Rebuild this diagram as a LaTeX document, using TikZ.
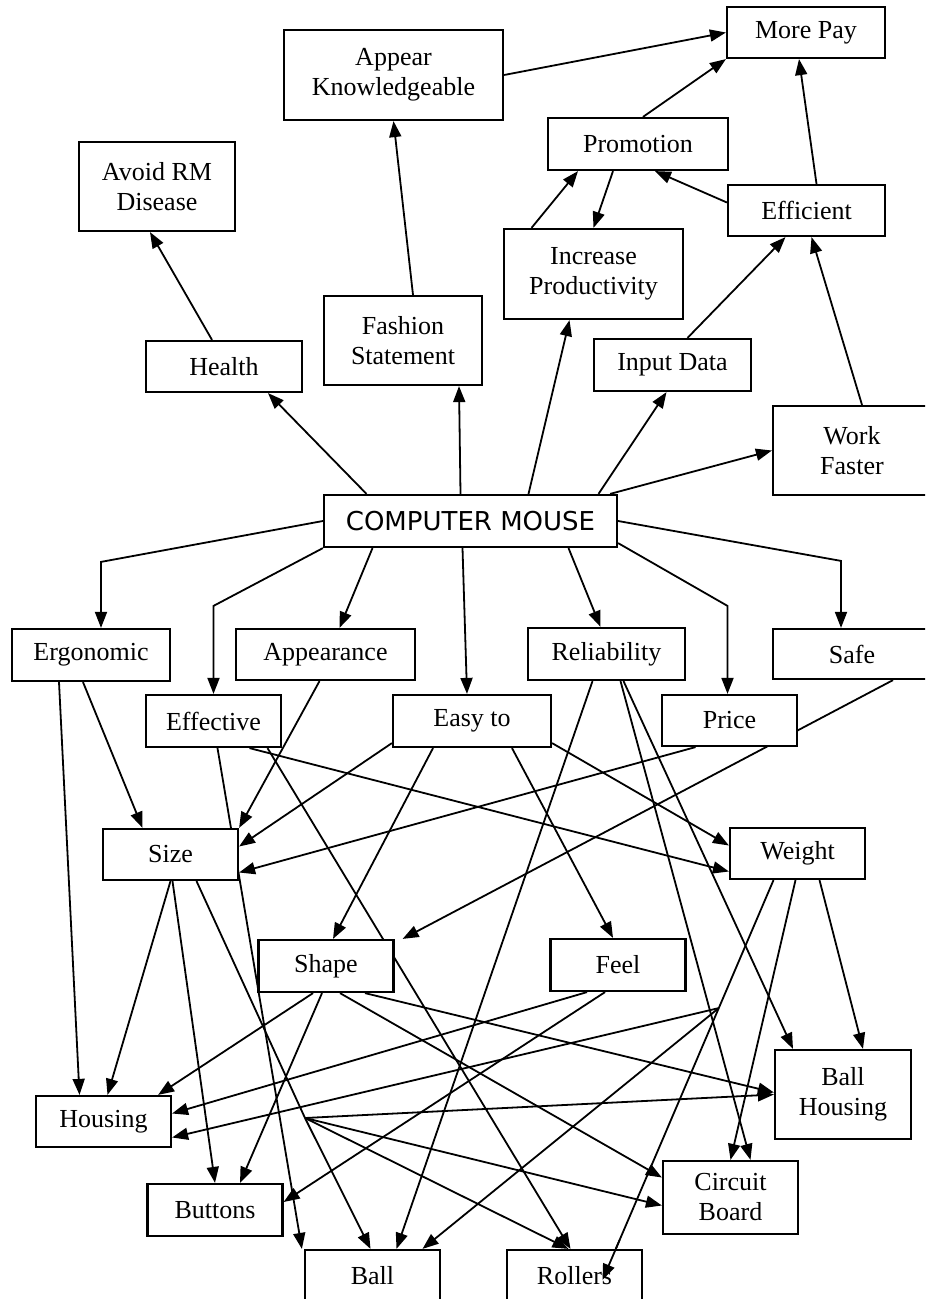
\documentclass[tikz,border=0pt]{standalone}
\usepackage{fontspec}
\setmainfont{Liberation Serif}
\newfontfamily\mousefont{DejaVu Sans}
\usetikzlibrary{arrows.meta,backgrounds,calc}
\tikzset{box/.style={draw, fill=white, line width=1.1pt, inner sep=0pt, align=center,
    minimum width=67.5pt, minimum height=26pt, font=\fontsize{13}{15}\selectfont},
  link/.style={line width=0.9pt, -{Triangle[length=8pt,width=6pt]}}}

\begin{document}
\begin{tikzpicture}[x=0.5pt,y=-0.5pt]
    \useasboundingbox (0,0) rectangle (925,1299);
    \clip (0,0) rectangle (925,1299);
    \node[box, minimum width=79pt, minimum height=25.5pt] (morepay) at (806,32.5) {More Pay};
    \node[box, minimum width=109.5pt, minimum height=45pt] (appear) at (393.5,75) {Appear\\Knowledgeable};
    \node[box, minimum width=78pt, minimum height=44.5pt] (avoid) at (157,186.5) {Avoid RM\\Disease};
    \node[box, minimum width=90pt] (promo) at (638,144) {Promotion};
    \node[box, minimum width=78.5pt, minimum height=25.5pt] (efficient) at (806.5,210.5) {Efficient};
    \node[box, minimum width=89.5pt, minimum height=45pt] (incprod) at (593.5,274) {Increase\\Productivity};
    \node[box, minimum width=79pt, minimum height=44.5pt] (fashion) at (403,340.5) {Fashion\\Statement};
    \node[box, minimum width=78pt, minimum height=25.5pt] (health) at (224,366.5) {Health};
    \node[box, minimum width=78.5pt] (inputdata) at (672.5,365) {Input Data};
    \node[box, minimum width=79pt, minimum height=44.5pt] (workfaster) at (852,450.5) {Work\\Faster};
    \node[box, minimum width=146.5pt, font=\mousefont\fontsize{13}{15}\selectfont] (mouse) at (470.5,521) {COMPUTER MOUSE};
    \node[box, minimum width=79pt] (ergonomic) at (91,655) {Ergonomic};
    \node[box, minimum width=89.5pt, minimum height=25.5pt] (appearance) at (325.5,654.5) {Appearance};
    \node[box, minimum width=78.5pt] (reliability) at (606.5,654) {Reliability};
    \node[box, minimum width=79pt, minimum height=25pt] (safe) at (852,654) {Safe};
    \node[box] (effective) at (213.5,721) {Effective};
    \node[box, minimum width=79pt] (easyto) at (472,721) {Easy to};
    \node[box, minimum height=25.5pt] (price) at (729.5,720.5) {Price};
    \node[box, minimum height=25.5pt] (size) at (170.5,854.5) {Size};
    \node[box, minimum height=25.5pt] (weight) at (797.5,853.5) {Weight};
    \node[box] (shape) at (326,966) {Shape};
    \node[box] (feel) at (618,965) {Feel};
    \node[box, minimum width=68pt, minimum height=44.5pt] (ballhousing) at (843,1094.5) {Ball\\Housing};
    \node[box, minimum height=25.5pt] (housing) at (103.5,1121.5) {Housing};
    \node[box, minimum height=36.5pt] (circuit) at (730.5,1197.5) {Circuit\\Board};
    \node[box] (buttons) at (215,1210) {Buttons};
    \node[box] (ball) at (372.5,1276) {Ball};
    \node[box] (rollers) at (574.5,1276) {Rollers};
    \coordinate (sizejoin) at (305,1118);
    \coordinate (weighttop) at ([xshift=-12pt]weight.south);
    \coordinate (rollersend) at ([xshift=14pt,yshift=-2pt]rollers.center);
    \coordinate (weightjoin) at ($(weighttop)!0.32!(rollersend)$);
    \begin{scope}[on background layer]
    \begin{scope}[link]
    \draw (appear.east) -- (morepay.west);
    \draw ([xshift=2.5pt]promo.north) -- (morepay.south west);
    \draw ([xshift=5pt]efficient.north) -- ([xshift=-3.5pt]morepay.south);
    \draw ([yshift=4pt]efficient.west) -- ([xshift=8.5pt]promo.south);
    \draw ([xshift=-31pt]incprod.north) -- ([xshift=-30pt]promo.south);
    \draw ([xshift=-12.5pt]promo.south) -- (incprod.north);
    \draw ([xshift=5pt]fashion.north) -- (appear.south);
    \draw ([xshift=-6pt]health.north) -- ([xshift=-3.5pt]avoid.south);
    \draw ([xshift=7.5pt]inputdata.north) -- ([xshift=-10.5pt]efficient.south);
    \draw ([xshift=5pt]workfaster.north) -- ([xshift=2.5pt]efficient.south);
    \draw ([xshift=-52pt]mouse.north) -- ([xshift=22pt]health.south);
    \draw ([xshift=-5pt]mouse.north) -- ([xshift=28pt]fashion.south);
    \draw ([xshift=29pt]mouse.north) -- ([xshift=-12pt]incprod.south);
    \draw ([xshift=64pt]mouse.north) -- ([xshift=-3pt]inputdata.south);
    \draw ([xshift=-4pt]mouse.north east) -- (workfaster.west);
    \draw (mouse.west) -- ([xshift=5pt,yshift=33pt]ergonomic.north) -- ([xshift=5pt]ergonomic.north);
    \draw (mouse.south west) -- ([yshift=44pt]effective.north) -- (effective.north);
    \draw ([xshift=-49pt]mouse.south) -- ([xshift=7pt]appearance.north);
    \draw ([xshift=-4pt]mouse.south) -- ([xshift=-2.5pt]easyto.north);
    \draw ([xshift=49pt]mouse.south) -- ([xshift=-3pt]reliability.north);
    \draw ([yshift=2.5pt]mouse.south east) -- ([xshift=-1pt,yshift=44pt]price.north) -- ([xshift=-1pt]price.north);
    \draw (mouse.east) -- ([xshift=-5.5pt,yshift=33.5pt]safe.north) -- ([xshift=-5.5pt]safe.north);
    \draw ([xshift=-16pt]ergonomic.south) -- ([xshift=-12pt]housing.north);
    \draw ([xshift=-4pt]ergonomic.south) -- ([xshift=-14pt]size.north);
    \draw ([xshift=-3pt]appearance.south) -- (size.north east);
    \draw ([xshift=2pt]effective.south) -- ([xshift=-1pt]ball.north west);
    \draw ([xshift=18pt]effective.south) -- ([yshift=-9pt]weight.west);
    \draw ([xshift=27pt]effective.south) -- ([xshift=-2pt]rollers.north);
    \draw ([yshift=2.5pt]easyto.south west) -- ([yshift=4pt]size.east);
    \draw ([xshift=-17pt]price.south) -- ([yshift=-9pt]size.east);
    \draw ([xshift=-19.5pt]easyto.south) -- ([xshift=3.5pt]shape.north);
    \draw ([xshift=20pt]easyto.south) -- ([xshift=-2.5pt]feel.north);
    \draw ([yshift=2.5pt]easyto.south east) -- ([yshift=4pt]weight.west);
    \draw ([xshift=-7pt]reliability.south) -- ([xshift=12pt]ball.north);
    \draw ([xshift=7pt]reliability.south) -- ([xshift=10pt]circuit.north);
    \draw ([xshift=8.5pt]reliability.south) -- ([xshift=-25pt]ballhousing.north);
    \draw ([xshift=20.5pt]safe.south) -- ([xshift=4pt]shape.north east);
    \draw (size.south) -- ([xshift=2pt]housing.north);
    \draw ([xshift=1pt]size.south) -- (buttons.north);
    \draw[-] ([xshift=13pt]size.south) -- (sizejoin);
    \draw (sizejoin) -- (ballhousing.west);
    \draw (sizejoin) -- ([yshift=-4pt]circuit.west);
    \draw (sizejoin) -- ([xshift=-3pt]rollers.north);
    \draw (sizejoin) -- ([xshift=-1pt]ball.north);
    \draw ([xshift=-6.5pt]shape.south) -- ([xshift=-7pt]housing.north east);
    \draw ([xshift=-2pt]shape.south) -- ([xshift=12.5pt]buttons.north);
    \draw ([xshift=7pt]shape.south) -- ([yshift=10pt]circuit.west);
    \draw ([xshift=19.5pt]shape.south) -- ([yshift=1pt]ballhousing.west);
    \draw ([xshift=-15.5pt]feel.south) -- ([yshift=4pt]housing.east);
    \draw ([xshift=-6.5pt]feel.south) -- ([yshift=4pt]buttons.east);
    \draw[-] (weighttop) -- (rollersend);
    \draw (weightjoin) -- ([yshift=-8pt]housing.east);
    \draw (weightjoin) -- ([xshift=25pt]ball.north);
    \draw ([xshift=-1pt]weight.south) -- (circuit.north);
    \draw ([xshift=11pt]weight.south) -- ([xshift=10pt]ballhousing.north);
    \end{scope}
    \end{scope}
    \draw[link] ($(weighttop)!0.9!(rollersend)$) -- (rollersend);
  \end{tikzpicture}
\end{document}
